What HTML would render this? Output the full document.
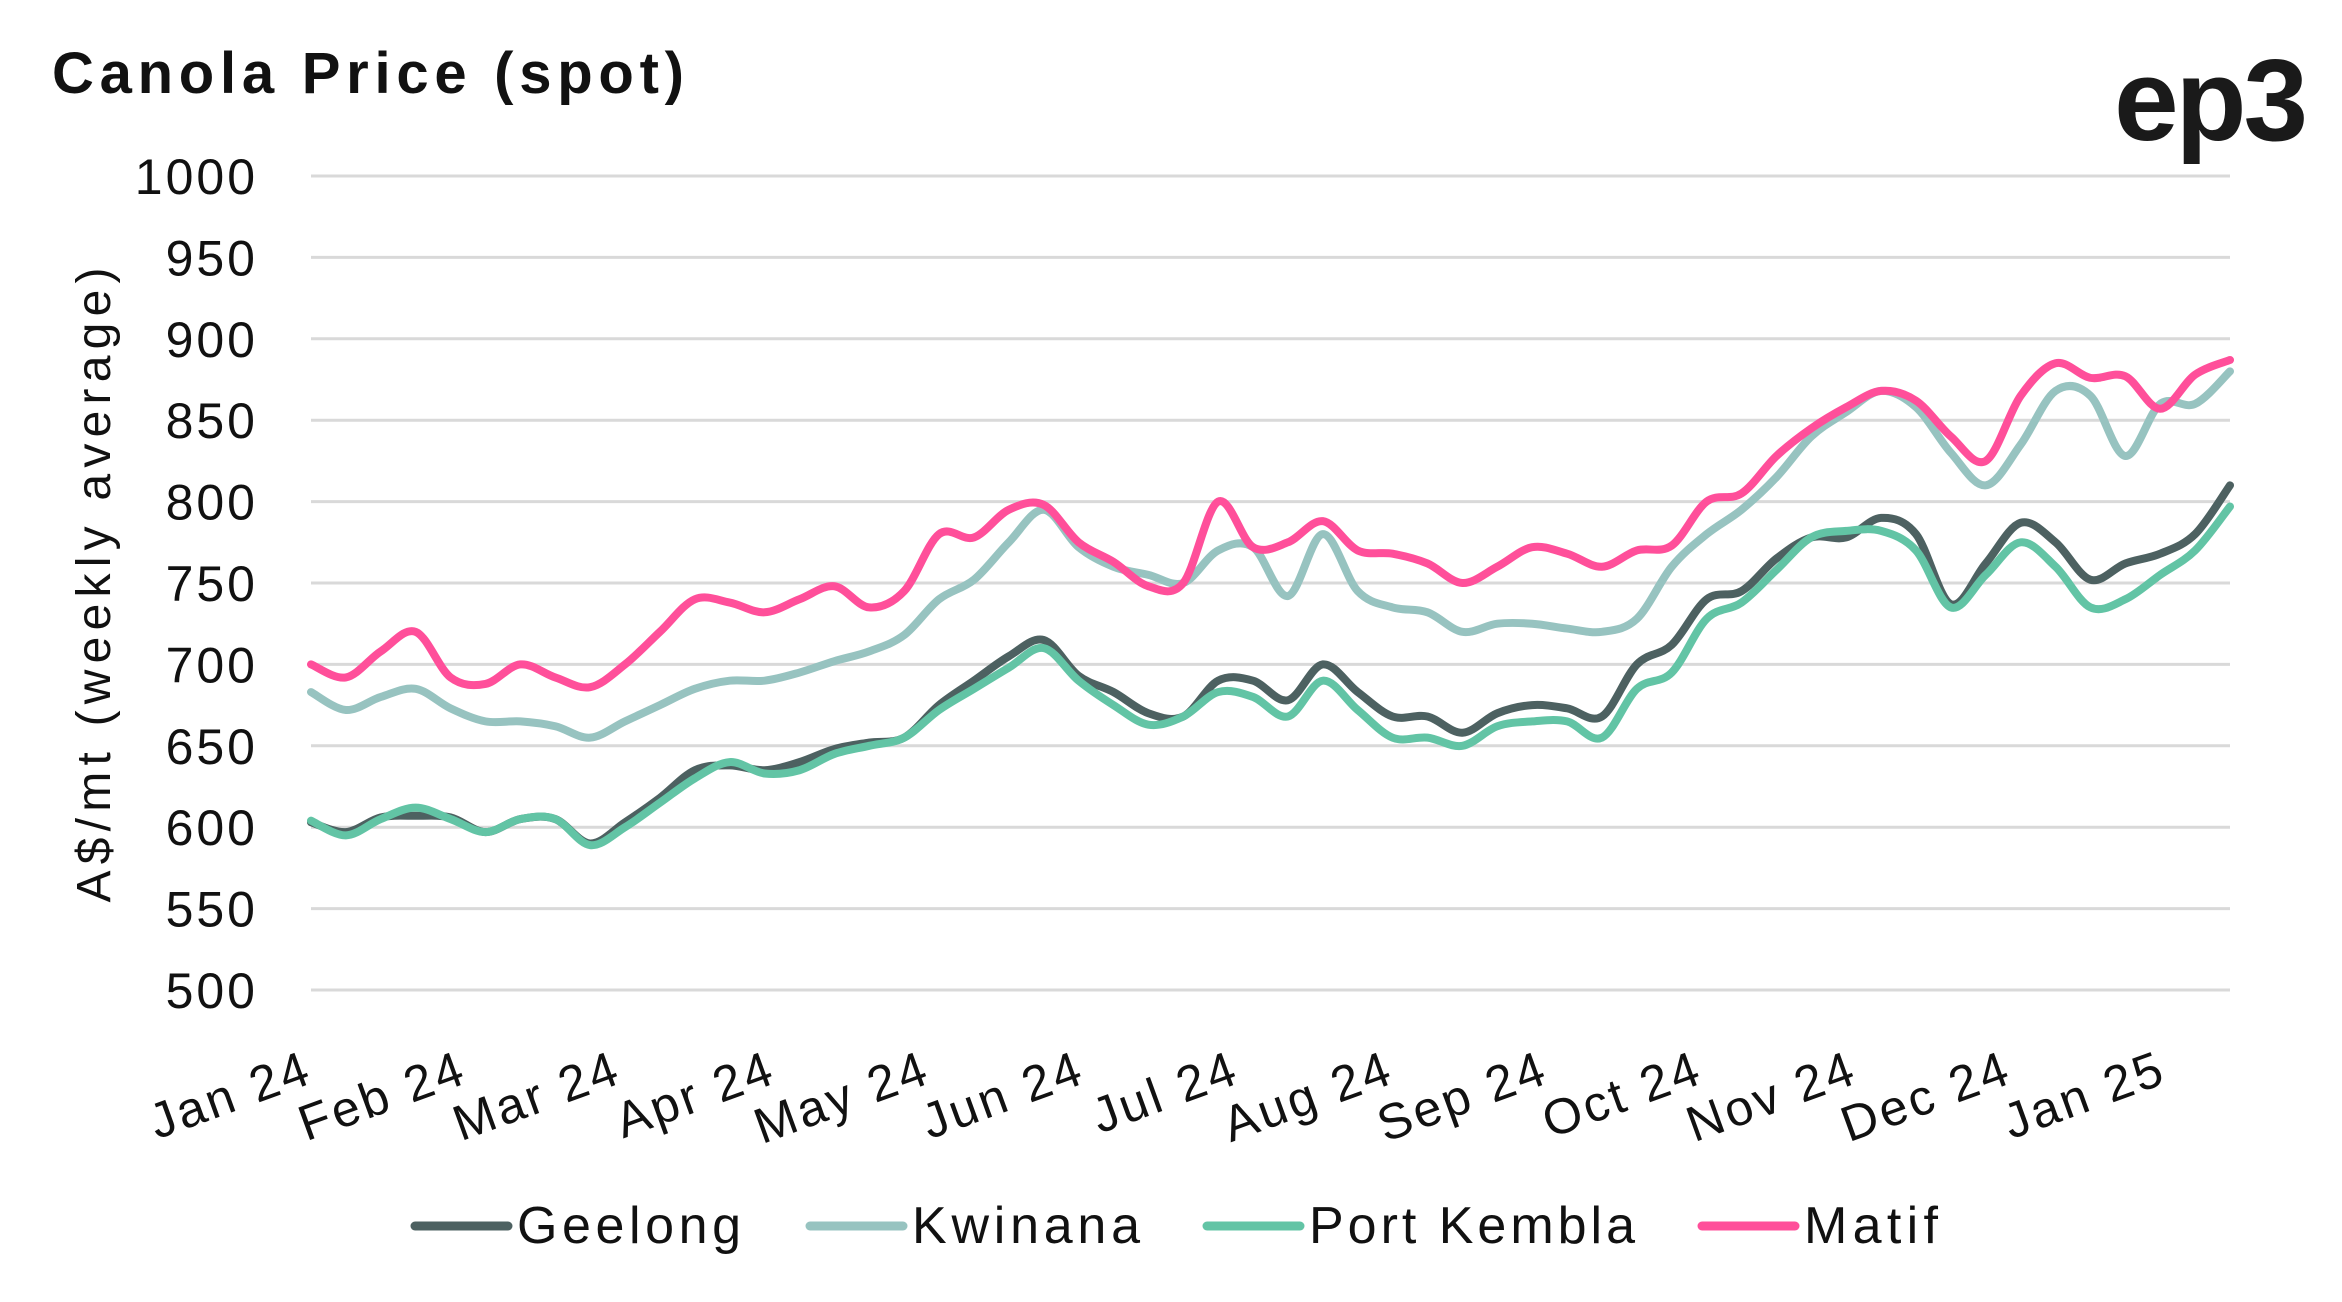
<!DOCTYPE html>
<html><head><meta charset="utf-8"><style>
html,body{margin:0;padding:0;background:#fff;}
svg{display:block;font-family:"Liberation Sans",sans-serif;}
</style></head><body>
<svg id="chart" width="2342" height="1302" viewBox="0 0 2342 1302">
<text x="52" y="93" font-size="58" font-weight="bold" fill="#111" textLength="632" lengthAdjust="spacing">Canola Price (spot)</text>
<text x="2305" y="140" font-size="116" font-weight="bold" fill="#1a1a1a" text-anchor="end" letter-spacing="-3">ep3</text>
<text transform="translate(110,585) rotate(-90)" font-size="48" fill="#111" text-anchor="middle" textLength="635" lengthAdjust="spacing">A$/mt (weekly average)</text>
<g id="grid"></g><g id="yticks"></g><g id="xticks"></g><g id="series"></g><g id="legend"></g>
</svg>
<script>
const yTicks=[500,550,600,650,700,750,800,850,900,950,1000];
const months=["Jan 24","Feb 24","Mar 24","Apr 24","May 24","Jun 24","Jul 24","Aug 24","Sep 24","Oct 24","Nov 24","Dec 24","Jan 25"];
const seriesNames=["Geelong","Kwinana","Port Kembla","Matif"];
const geelong=[603,597,606,607,606,597,605,605,590,603,618,635,638,635,640,648,652,655,675,690,705,715,693,683,670,668,690,690,678,700,683,668,668,658,670,675,673,668,700,712,740,745,765,778,778,790,780,737,762,787,775,752,762,768,780,810];
const kwinana=[683,672,680,685,673,665,665,662,655,665,675,685,690,690,695,702,708,718,740,752,775,795,772,760,755,750,770,772,742,780,745,735,732,720,725,725,722,720,728,760,780,795,815,840,855,868,858,830,810,835,868,865,828,860,860,880];
const portKembla=[604,595,605,612,605,597,605,605,589,600,615,630,640,633,635,645,650,655,672,685,698,710,690,675,663,668,683,680,668,690,672,655,655,650,662,665,665,655,685,695,728,738,758,778,782,782,770,735,755,775,760,735,740,755,770,797];
const matif=[700,692,708,720,692,688,700,692,686,700,720,740,738,732,740,748,735,745,780,778,795,798,775,763,748,750,800,772,775,788,770,768,762,750,760,772,768,760,770,773,800,805,828,845,858,868,862,840,825,865,885,876,877,857,878,887];
const seriesData=[geelong,kwinana,portKembla,matif];
const colors=["#4d6161","#97c3c0","#62c4a5","#ff4f9a"];
const NS="http://www.w3.org/2000/svg";
const X0=311,X1=2230,Y0=990,Y1=176;
const n=matif.length;
const xs=i=>X0+(X1-X0)*i/(n-1);
const ys=v=>Y0-(v-500)/(1000-500)*(Y0-Y1);
function el(t,a,p){const e=document.createElementNS(NS,t);for(const k in a)e.setAttribute(k,a[k]);p.appendChild(e);return e;}
const grid=document.getElementById('grid'),yt=document.getElementById('yticks');
yTicks.forEach(v=>{
 const l=el('line',{x1:X0,x2:X1,y1:ys(v),y2:ys(v),stroke:'#d9d9d9','stroke-width':3},grid);
 
 
 const t=el('text',{x:258,y:ys(v)+18,'font-size':50,'text-anchor':'end',fill:'#111','letter-spacing':3},yt);
 t.textContent=v;
 
 
});
const xt=document.getElementById('xticks');
months.forEach((m,i)=>{
 const x=X0+i*154.5+4;
 const t=el('text',{transform:`translate(${x},${1082}) rotate(-20)`,'font-size':50,'text-anchor':'end',fill:'#111','letter-spacing':3},xt);
 t.textContent=m;
 
 
});
function path(d){
 const p=d.map((v,i)=>[xs(i),ys(v)]);
 let s=`M${p[0][0]},${p[0][1]}`;
 for(let i=0;i<p.length-1;i++){
  const a=p[Math.max(0,i-1)],b=p[i],c=p[i+1],e=p[Math.min(p.length-1,i+2)];
  const c1=[b[0]+(c[0]-a[0])/6,b[1]+(c[1]-a[1])/6],c2=[c[0]-(e[0]-b[0])/6,c[1]-(e[1]-b[1])/6];
  s+=`C${c1[0]},${c1[1]} ${c2[0]},${c2[1]} ${c[0]},${c[1]}`;
 }
 return s;
}
const sg=document.getElementById('series');
seriesData.forEach((d,k)=>{
 const p=el('path',{d:path(d),fill:'none',stroke:colors[k],'stroke-width':8,'stroke-linejoin':'round','stroke-linecap':'round'},sg);
 
 
});
const lg=document.getElementById('legend');
const lx=[415,810,1207,1702];
const lw=[224,228,326,134];
seriesNames.forEach((s,k)=>{
 const g=el('g',{},lg);
 
 
 el('line',{x1:lx[k],x2:lx[k]+93,y1:1226,y2:1226,stroke:colors[k],'stroke-width':9,'stroke-linecap':'round'},g);
 const t=el('text',{x:lx[k]+102,y:1243,'font-size':52,fill:'#111',textLength:lw[k],lengthAdjust:'spacing'},g);
 t.textContent=s;
});
</script>
</body></html>
